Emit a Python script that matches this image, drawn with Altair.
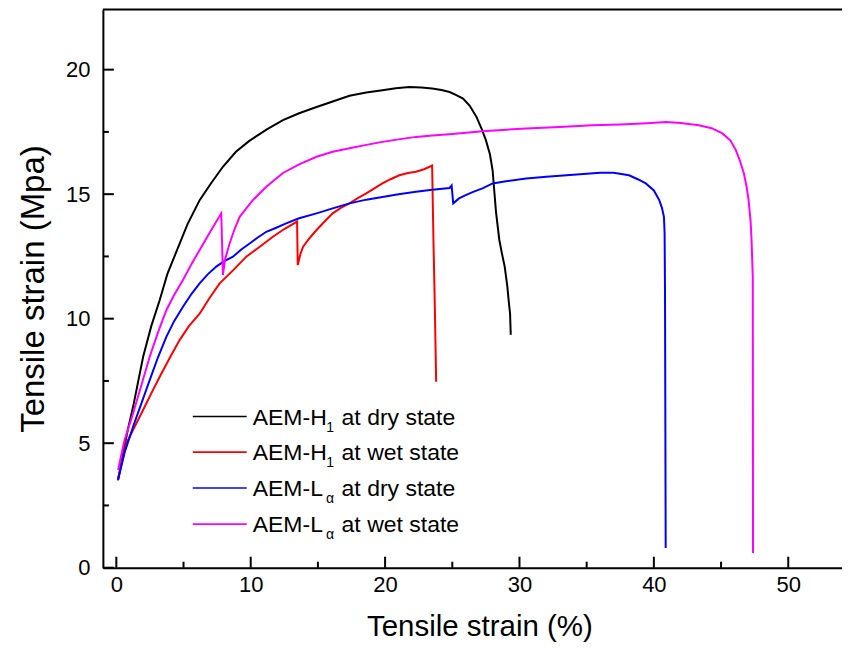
import altair as alt
import pandas as pd

# ---------------- data ----------------
series_names = ["AEM-H1 at dry state", "AEM-H1 at wet state",
                "AEM-La at dry state", "AEM-La at wet state"]
series_colors = ["#000000", "#FF0000", "#0000FF", "#FF00FF"]

h1_dry_x = [0.13, 0.8, 1.3, 2.0, 2.6, 3.23, 3.8, 4.47, 5.3, 6.2, 7.0, 7.93, 8.9, 9.92,
            11.2, 12.4, 13.6, 14.9, 16.1, 17.35, 18.6, 19.8, 20.8, 21.8, 22.7, 23.5,
            24.2, 24.8, 25.3, 25.8, 26.3, 26.8, 27.2, 27.5, 27.8, 28.0, 28.25, 28.5,
            28.7, 28.9, 29.1, 29.2, 29.3, 29.35]
h1_dry_y = [3.53, 5.4, 6.6, 8.48, 9.7, 10.75, 11.8, 12.69, 13.8, 14.76, 15.4, 16.1, 16.7,
            17.15, 17.6, 17.97, 18.25, 18.5, 18.72, 18.95, 19.08, 19.17, 19.25, 19.3,
            19.28, 19.24, 19.18, 19.1, 18.98, 18.84, 18.55, 18.1, 17.6, 17.17, 16.6,
            15.96, 14.3, 13.16, 12.6, 12.09, 11.28, 10.7, 10.2, 9.35]

h1_wet_x = [0.1, 0.76, 1.4, 2.0, 2.6, 3.23, 4.0, 4.72, 5.4, 6.2, 6.9, 7.69, 8.7, 9.67,
            10.7, 11.65, 12.5, 13.45, 13.5, 13.7, 13.9, 14.4, 14.9, 15.5, 16.1, 16.7,
            17.35, 18.0, 18.6, 19.2, 19.8, 20.4, 21.06, 21.7, 22.3, 22.9, 23.5, 23.6,
            23.7, 23.8]
h1_wet_y = [3.5, 5.0, 5.7, 6.34, 7.0, 7.67, 8.45, 9.15, 9.7, 10.2, 10.8, 11.42, 11.95,
            12.49, 12.9, 13.29, 13.6, 13.9, 12.15, 12.6, 12.89, 13.25, 13.56, 13.9,
            14.23, 14.45, 14.63, 14.85, 15.03, 15.23, 15.43, 15.6, 15.76, 15.85, 15.9,
            16.0, 16.15, 13.1, 10.5, 7.47]

la_dry_x = [0.13, 0.6, 1.25, 1.9, 2.49, 3.1, 3.73, 4.3, 4.96, 5.6, 6.2, 6.8, 7.44, 8.0,
            8.68, 9.3, 9.92, 10.5, 11.16, 11.9, 12.64, 13.6, 14.9, 16.1, 17.35, 18.6,
            19.8, 21.0, 22.3, 23.5, 24.8, 24.95, 25.07, 25.5, 26.0, 26.6, 27.25, 28.0,
            29.0, 30.5, 32.0, 33.5, 35.0, 36.0, 37.0, 38.15, 38.8, 39.4, 40.0, 40.4,
            40.6, 40.75, 40.8, 40.83, 40.88]
la_dry_y = [3.53, 4.6, 5.67, 6.65, 7.54, 8.45, 9.28, 9.9, 10.48, 11.0, 11.42, 11.78,
            12.09, 12.3, 12.49, 12.78, 13.02, 13.25, 13.49, 13.65, 13.83, 14.03, 14.23,
            14.43, 14.63, 14.78, 14.89, 15.0, 15.1, 15.18, 15.25, 15.35, 14.63, 14.83,
            14.96, 15.1, 15.23, 15.43, 15.52, 15.63, 15.7, 15.76, 15.82, 15.86, 15.86,
            15.76, 15.6, 15.43, 15.15, 14.76, 14.45, 14.09, 13.42, 11.02, 0.79]

la_wet_x = [0.13, 0.6, 1.25, 1.9, 2.49, 3.1, 3.73, 4.3, 4.96, 5.6, 6.2, 7.0, 7.81, 7.87,
            7.93, 8.1, 8.43, 8.8, 9.18, 9.7, 10.16, 11.16, 12.4, 13.6, 14.9, 16.1, 17.35,
            18.6, 19.8, 21.0, 22.3, 23.5, 24.8, 27.25, 30.5, 33.0, 35.4, 37.5, 39.5,
            40.9, 42.0, 43.35, 44.3, 45.1, 45.7, 46.1, 46.4, 46.7, 46.9, 47.05, 47.2,
            47.27, 47.36, 47.38]
la_wet_y = [3.93, 5.1, 6.2, 7.4, 8.48, 9.45, 10.35, 10.95, 11.55, 12.2, 12.76, 13.5,
            14.23, 13.0, 11.75, 12.4, 13.02, 13.6, 14.09, 14.45, 14.76, 15.3, 15.85,
            16.2, 16.5, 16.7, 16.84, 16.98, 17.1, 17.2, 17.3, 17.36, 17.41, 17.53, 17.64,
            17.7, 17.77, 17.8, 17.85, 17.9, 17.86, 17.77, 17.65, 17.44, 17.15, 16.77,
            16.35, 15.83, 15.3, 14.76, 13.9, 13.16, 11.68, 0.59]

x_major = [0, 10, 20, 30, 40, 50]
x_minor = [5, 15, 25, 35, 45]
y_major = [0, 5, 10, 15, 20]
y_minor = [2.5, 7.5, 12.5, 17.5]

legend_main = ["AEM-H", "AEM-H", "AEM-L", "AEM-L"]
legend_sub = ["1", "1", "\u03b1", "\u03b1"]
legend_rest = ["at dry state", "at wet state", "at dry state", "at wet state"]
legend_row_y = [6.07, 4.64, 3.2, 1.75]   # row positions in data units

# ---------------- build tables ----------------
all_x = [h1_dry_x, h1_wet_x, la_dry_x, la_wet_x]
all_y = [h1_dry_y, h1_wet_y, la_dry_y, la_wet_y]
rows = []
for name, xs, ys in zip(series_names, all_x, all_y):
    for i, (a, b) in enumerate(zip(xs, ys)):
        rows.append({"series": name, "strain": a, "stress": b, "idx": i})
df = pd.DataFrame(rows)

leg = pd.DataFrame({"series": series_names, "main": legend_main, "sub": legend_sub,
                    "rest": legend_rest, "ly": legend_row_y})

W, H = 740, 559
FONT = "Liberation Sans"
X_DOM = [-1, 54]
Y_DOM = [0, 22.42]

xs_scale = alt.Scale(domain=X_DOM, nice=False, zero=False)
ys_scale = alt.Scale(domain=Y_DOM, nice=False, zero=False)
x_axis = alt.Axis(values=x_major, ticks=False, grid=False, domainColor="black",
                  domainWidth=2, labelFontSize=22, labelFont=FONT,
                  labelColor="black", labelPadding=7, labelFlush=False,
                  title="Tensile strain (%)", titleFontSize=29.5, titleFont=FONT,
                  titleFontWeight="normal", titleColor="black", titlePadding=17,
                  titleX=377, titleAlign="center")
y_axis = alt.Axis(values=y_major, ticks=False, grid=False, domainColor="black",
                  domainWidth=2, labelFontSize=22, labelFont=FONT,
                  labelColor="black", labelPadding=13, labelFlush=False,
                  title="Tensile strain (Mpa)", titleFontSize=33, titleFont=FONT,
                  titleFontWeight="normal", titleColor="black", titlePadding=15)
color = alt.Color("series:N", scale=alt.Scale(domain=series_names, range=series_colors),
                  legend=None)

def X(field):
    return alt.X(field, scale=xs_scale, axis=x_axis, title="Tensile strain (%)")

def Y(field):
    return alt.Y(field, scale=ys_scale, axis=y_axis, title="Tensile strain (Mpa)")

lines = alt.Chart(df).mark_line(strokeWidth=2, clip=True).encode(
    x=X("strain:Q"), y=Y("stress:Q"), color=color, order=alt.Order("idx:Q"),
)

def xticks(vals, length):
    return alt.Chart(pd.DataFrame({"v": vals})).mark_rule(color="black", strokeWidth=2).encode(
        x=X("v:Q"), y=alt.value(H), y2=alt.value(H - length))

def yticks(vals, length):
    return alt.Chart(pd.DataFrame({"v": vals})).mark_rule(color="black", strokeWidth=2).encode(
        y=Y("v:Q"), x=alt.value(0), x2=alt.value(length))

top_border = alt.Chart(pd.DataFrame({"v": [0]})).mark_rule(color="black", strokeWidth=2).encode(
    x=alt.value(0), x2=alt.value(W), y=alt.value(0))

leg_base = alt.Chart(leg)
leg_lines = leg_base.mark_rule(strokeWidth=1.6).encode(
    x=alt.value(90), x2=alt.value(144), y=Y("ly:Q"), color=color)
leg_main = leg_base.mark_text(align="left", baseline="alphabetic", dy=8, fontSize=23,
                              font=FONT, color="black").encode(
    x=alt.value(150), y=Y("ly:Q"), text="main:N")
leg_sub = leg_base.mark_text(align="right", baseline="alphabetic", dy=15, fontSize=14,
                             font=FONT, color="black").encode(
    x=alt.value(231.5), y=Y("ly:Q"), text="sub:N")
leg_rest = leg_base.mark_text(align="left", baseline="alphabetic", dy=8, fontSize=23,
                              font=FONT, color="black").encode(
    x=alt.value(239), y=Y("ly:Q"), text="rest:N")

chart = alt.layer(
    lines, xticks(x_major, 11), xticks(x_minor, 6), yticks(y_major, 11), yticks(y_minor, 6),
    top_border, leg_lines, leg_main, leg_sub, leg_rest
).properties(
    width=W, height=H,
    autosize=alt.AutoSizeParams(type="none"),
    padding={"left": 95, "top": 1, "right": 0, "bottom": 78},
).configure_view(strokeOpacity=0, strokeWidth=0).configure(background="white")

chart.save("out.html", embed_options={"renderer": "svg", "actions": False})
